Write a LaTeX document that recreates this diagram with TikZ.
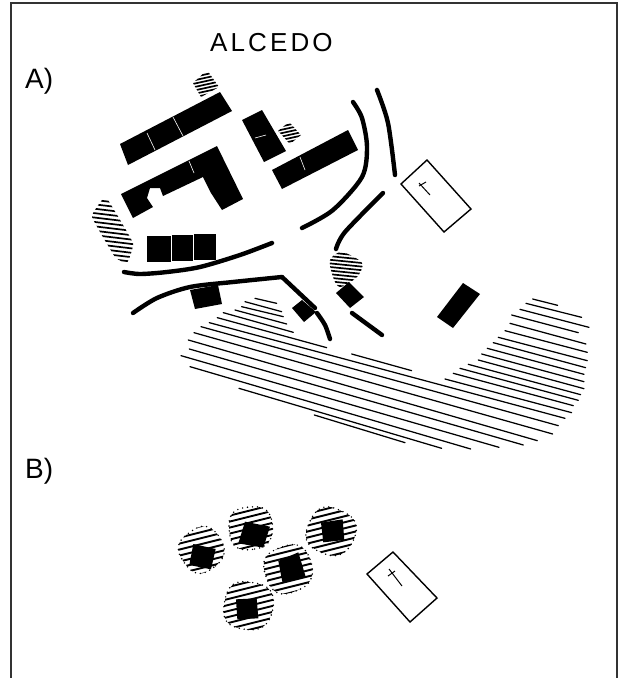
\documentclass[tikz,border=0pt]{standalone}
\usepackage{fontspec}
\setmainfont{Liberation Sans}
\newfontfamily\spaced[LetterSpace=12]{Liberation Sans}
\tikzset{
  block/.style={fill=black,draw=none},
  slit/.style={draw=white,line width=0.6pt},
  road/.style={draw=black,line width=4.4pt,line cap=round,line join=round},
  church/.style={draw=black,line width=1.4pt,fill=white,line join=miter},
  crossmark/.style={draw=black,line width=1pt},
  lake/.style={draw=black,line width=1.25pt,line cap=round},
  hatchline/.style={draw=black,line width=1.7pt},
  bloblines/.style={draw=black,line width=1.9pt},
  dots/.style={draw=black,line width=1.6pt,line cap=round,dash pattern=on 0pt off 5pt},
  frameline/.style={draw=black!80,line width=1.3pt},
  label/.style={inner sep=0pt,anchor=base west,font=\fontsize{28}{28}\selectfont},
  titlelabel/.style={inner sep=0pt,anchor=base west,font=\fontsize{26}{26}\selectfont}
}
\newcommand{\hatchpoly}[7]{% polygon, x0, y0, count, spacing, slope, tension
  \begin{scope}
    \clip plot[smooth cycle,tension=#7] coordinates {#1};
    \foreach \k in {0,...,#4}
      \draw[hatchline] (#2,{#3+\k*#5}) -- ++(100,#6);
  \end{scope}}
\newcommand{\blobpath}[4]{plot[smooth cycle,tension=0.7] coordinates {
  ({#1+#3*cos(#4)},{#2+#3*sin(#4)})
  ({#1+.93*#3*cos(#4+45)},{#2+.93*#3*sin(#4+45)})
  ({#1+1.05*#3*cos(#4+90)},{#2+1.05*#3*sin(#4+90)})
  ({#1+.95*#3*cos(#4+135)},{#2+.95*#3*sin(#4+135)})
  ({#1+1.04*#3*cos(#4+180)},{#2+1.04*#3*sin(#4+180)})
  ({#1+.94*#3*cos(#4+225)},{#2+.94*#3*sin(#4+225)})
  ({#1+1.06*#3*cos(#4+270)},{#2+1.06*#3*sin(#4+270)})
  ({#1+.97*#3*cos(#4+315)},{#2+.97*#3*sin(#4+315)})}}
\newcommand{\blob}[5]{% cx cy r (zoom units), house polygon, rotation
  \begin{scope}
    \clip \blobpath{#1}{#2}{#3}{#5};
    \foreach \k in {-5,...,5}
      \draw[bloblines] ({#1-120},{#2+\k*18+30}) -- ++(240,-60);
  \end{scope}
  \draw[dots] \blobpath{#1}{#2}{#3}{#5};
  \fill[block] #4 -- cycle;}
\begin{document}
\begin{tikzpicture}[x=1pt,y=-1pt]
\useasboundingbox (0,0) rectangle (625,678);
\fill[white] (0,0) rectangle (625,678);
% frame
\draw[frameline] (11,678) -- (11,3) -- (617,3) -- (617,678);
% titles
\node[titlelabel] (title) at (210,51) {\spaced ALCEDO};
\node[label] (parta) at (25,88) {A)};
\node[label] (partb) at (25,478) {B)};
% buildings panel A
\fill[block] (120,144) -- (220,92) -- (232,111) -- (128,165) -- cycle;
\draw[slit] (147,133) -- (155,150);
\draw[slit] (173,117) -- (183,136);
\fill[block] (121,194) -- (217,146) -- (243,199) -- (222,210) -- (211,193) -- (203,177) -- (163,196) -- (160,188) -- (150,188) -- (147,198) -- (153,207) -- (133,218) -- cycle;
\draw[slit] (189,161) -- (194,173);
\fill[block] (242,120) -- (262,110) -- (286,151) -- (264,162) -- cycle;
\draw[slit] (255,138) -- (266,135);
\fill[block] (272,170) -- (348,130) -- (358,150) -- (282,189) -- cycle;
\draw[slit] (300,157) -- (305,170);
\fill[block] (147,236) rectangle (171,262);
\fill[block] (171.7,235) rectangle (193,261);
\fill[block] (194,233.5) rectangle (216,260);
\fill[block] (190,290) -- (218,285) -- (222,304) -- (195,309) -- cycle;
\fill[block] (292,308) -- (302,300) -- (316,312) -- (304,322) -- cycle;
\fill[block] (336,293) -- (349,282) -- (364,297) -- (350,308) -- cycle;
\fill[block] (437,317) -- (463,283) -- (480,294) -- (453,328) -- cycle;
% roads
\draw[road] plot[smooth] coordinates {(124,272) (140,274) (167,272) (200,267) (240,255) (272,243)};
\draw[road] plot[smooth] coordinates {(133,313) (157,298) (190,287) (233,282) (282,277)};
\draw[road] (282,277) -- (315,308);
\draw[road] plot[smooth] coordinates {(317,313) (325,325) (330,339)};
\draw[road] plot[smooth] coordinates {(353,102) (362,118) (367,147) (362,177) (333,210) (302,228)};
\draw[road] plot[smooth] coordinates {(377,90) (388,123) (395,175)};
\draw[road] plot[smooth] coordinates {(383,193) (345,232) (336,249)};
\draw[road] (352,313) -- (382,335);
% churches
\draw[church] (401,184) -- (427,160) -- (471,209) -- (444,232) -- cycle;
\draw[crossmark] (419,183) -- (430,195);
\draw[crossmark] (419,186) -- (426,182);
\draw[church] (367,574) -- (393,552) -- (437,598) -- (410,622) -- cycle;
\draw[crossmark] (389,569) -- (402,586);
\draw[crossmark] (388,576) -- (395,571);
% small hatches panel A
\hatchpoly{(193,83) (207,70) (219,87) (201,97)}{180}{80}{10}{3.4}{-22}{0}
\hatchpoly{(278,131) (289,122) (301,135) (290,144)}{265}{130}{10}{3.4}{-22}{0}
\hatchpoly{(102,200) (108,200) (133,243) (127,263) (115,257) (92,217)}{85}{190}{17}{4.4}{12}{0.2}
\hatchpoly{(330,260) (342,252) (362,263) (357,277) (340,287) (333,277)}{320}{248}{12}{3.6}{10}{0.5}
% lake, in zoomed coordinates
\begin{scope}[shift={(130,280)},x=0.3333pt,y=-0.3333pt]
\foreach \a/\b/\c/\d in {
 375/55/440/70, 345/65/455/95, 335/80/460/110, 315/90/470/132, 280/98/490/157,
 262/113/590/203, 665/222/845/272,
 238/128/1305/415, 213/140/1285/437, 192/158/1268/462, 175/180/1222/482,
 178/207/1180/495, 153/227/1107/502, 180/260/1022/507, 327/325/935/505, 553/405/825/488,
 1208/57/1283/76, 1188/70/1355/112, 1170/88/1377/142, 1145/105/1345/158,
 1140/130/1368/192, 1125/152/1372/217, 1105/172/1372/242, 1090/188/1367/263,
 1072/205/1362/283, 1055/222/1362/305, 1045/240/1362/326, 1015/253/1352/344,
 990/265/1345/361, 970/280/1330/377, 945/297/1325/398}
  \draw[lake] (\a,\b) -- (\c,\d);
\end{scope}
% panel B houses, in zoomed coordinates
\begin{scope}[shift={(150,480)},x=0.3333pt,y=-0.3333pt]
\blob{155}{210}{68}{(130,192) -- (197,207) -- (183,268) -- (118,255)}{10}
\blob{302}{145}{68}{(285,125) -- (360,140) -- (340,203) -- (265,190)}{40}
\blob{543}{155}{74}{(513,128) -- (578,118) -- (583,180) -- (520,187)}{70}
\blob{415}{268}{74}{(385,243) -- (445,217) -- (467,290) -- (398,310)}{25}
\blob{295}{378}{76}{(258,358) -- (320,355) -- (325,415) -- (262,418)}{55}
\end{scope}
\end{tikzpicture}
\end{document}
